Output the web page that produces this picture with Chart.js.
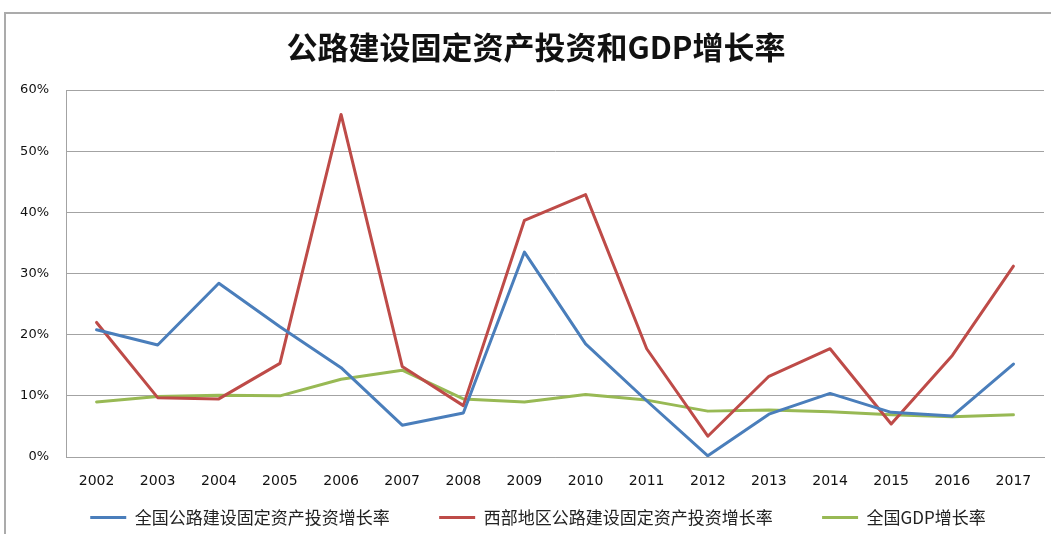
<!DOCTYPE html>
<html>
<head>
<meta charset="utf-8">
<script src="https://cdn.jsdelivr.net/npm/chart.js@4.4.0/dist/chart.umd.min.js"></script>
<style>
  body { margin: 0; background: #fff; }
</style>
</head>
<body>
<canvas id="growth-chart" width="1051" height="534"></canvas>
<script>
const years = ["2002", "2003", "2004", "2005", "2006", "2007", "2008", "2009",
  "2010", "2011", "2012", "2013", "2014", "2015", "2016", "2017"];

// 全国公路建设固定资产投资增长率 (%)
const nationalRoad = [20.8, 18.3, 28.4, 21.3, 14.6, 5.2, 7.2, 33.5,
  18.5, 9.2, 0.2, 7.0, 10.4, 7.3, 6.7, 15.2];
// 西部地区公路建设固定资产投资增长率 (%)
const westernRoad = [22.0, 9.7, 9.5, 15.3, 56.0, 14.8, 8.4, 38.7,
  42.9, 17.7, 3.4, 13.2, 17.7, 5.4, 16.6, 31.2];
// 全国GDP增长率 (%)
const gdpGrowth = [9.0, 9.9, 10.1, 10.0, 12.7, 14.2, 9.5, 9.0,
  10.2, 9.3, 7.5, 7.7, 7.4, 6.9, 6.6, 6.9];

const yTicks = [0, 10, 20, 30, 40, 50, 60];

const gridColor = "#a3a3a3";
const cjkFont = "'Noto Sans CJK SC', 'Noto Sans', sans-serif";

function lineDataset(label, data, color) {
  return {
    label: label,
    data: data,
    borderColor: color,
    backgroundColor: color,
    borderWidth: 3,
    tension: 0,
    pointRadius: 0,
    pointHoverRadius: 0,
    borderJoinStyle: "round",
    borderCapStyle: "round",
  };
}

// grey frame of the original chart, cut off at right and bottom
const framePlugin = {
  id: "frame",
  beforeDraw(chart) {
    const ctx = chart.ctx;
    ctx.save();
    ctx.fillStyle = "#fff";
    ctx.fillRect(0, 0, chart.width, chart.height);
    ctx.strokeStyle = "#ababab";
    ctx.lineWidth = 2;
    ctx.strokeRect(5, 13, chart.width + 20, chart.height + 20);
    ctx.restore();
  },
};

// the original centres title and legend a bit right of the canvas middle
const centreShiftPlugin = {
  id: "centreShift",
  afterLayout(chart) {
    chart.titleBlock.left += 28;
    chart.legend.left += 32;
  },
};

new Chart(document.getElementById("growth-chart"), {
  type: "line",
  data: {
    labels: years,
    datasets: [
      lineDataset("全国公路建设固定资产投资增长率", nationalRoad, "#4a7ebb"),
      lineDataset("西部地区公路建设固定资产投资增长率", westernRoad, "#be4b48"),
      lineDataset("全国GDP增长率", gdpGrowth, "#98b954"),
    ],
  },
  options: {
    responsive: false,
    animation: false,
    layout: {
      padding: { left: 0, right: 7, top: 0, bottom: -2 },
    },
    plugins: {
      title: {
        display: true,
        text: "公路建设固定资产投资和GDP增长率",
        color: "#111",
        font: { family: cjkFont, size: 31, weight: "bold" },
        padding: { top: 29, bottom: 23.8 },
      },
      legend: {
        position: "bottom",
        labels: {
          usePointStyle: true,
          pointStyle: "line",
          pointStyleWidth: 36,
          padding: 4,
          color: "#222",
          font: { family: cjkFont, size: 17 },
          generateLabels: (chart) =>
            Chart.defaults.plugins.legend.labels
              .generateLabels(chart)
              .map((item, i, all) => ({
                ...item,
                text: i < all.length - 1 ? item.text + "\u3000\u3000   " : item.text,
              })),
        },
      },
      tooltip: { enabled: false },
    },
    scales: {
      x: {
        offset: true,
        grid: { display: false, drawTicks: false, offset: true },
        border: { display: true, color: gridColor, width: 1 },
        ticks: {
          padding: 15.5,
          color: "#111",
          font: { family: "'DejaVu Sans', sans-serif", size: 14 },
          maxRotation: 0,
        },
        afterFit: (scale) => {
          scale.height = 48;
        },
      },
      y: {
        min: yTicks[0],
        max: yTicks[yTicks.length - 1],
        grid: { color: gridColor, lineWidth: 1, drawTicks: false },
        border: { display: true, color: gridColor, width: 1 },
        ticks: {
          stepSize: 10,
          padding: 17,
          color: "#111",
          font: { family: "'DejaVu Sans', sans-serif", size: 13 },
          callback: (value) => value + "%",
        },
        afterFit: (scale) => {
          scale.width = 66;
        },
      },
    },
  },
  plugins: [framePlugin, centreShiftPlugin],
});
</script>
</body>
</html>
